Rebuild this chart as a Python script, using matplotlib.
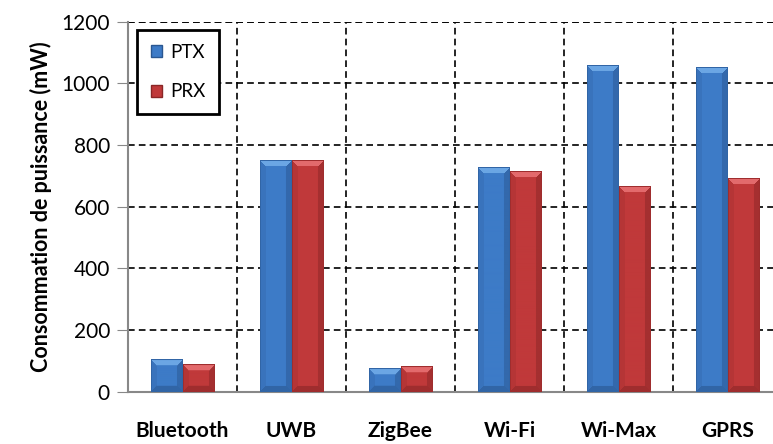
import numpy as np
import matplotlib
matplotlib.use("Agg")
import matplotlib.pyplot as plt
from matplotlib.patches import Patch
from matplotlib.colors import to_rgb

# ================================
# Données
# ================================
technos = ["Bluetooth", "UWB", "ZigBee", "Wi-Fi", "Wi-Max", "GPRS"]
ptx = [104, 752, 76, 727, 1060, 1053]
prx = [89, 752, 82, 714, 665, 694]
yticks = [0, 200, 400, 600, 800, 1000, 1200]

plt.rcParams["font.family"] = ["Lato", "DejaVu Sans"]

fig = plt.figure(figsize=(7.73, 4.44), dpi=100)
ax = fig.add_axes([128 / 773, 52.3 / 444, 654 / 773, 370 / 444])
ax.set_xlim(-0.5, len(technos) - 0.5)
ax.set_ylim(0, 1200)

x = np.arange(len(technos))
w = 0.29
b1 = ax.bar(x - w / 2, ptx, w, color="#3E7CC8", zorder=3)
b2 = ax.bar(x + w / 2, prx, w, color="#C0383A", zorder=3)


# effet biseauté façon Excel
def bevel(patch, base, light, dark):
    x0, y0 = patch.get_x(), patch.get_y()
    x1, y1 = x0 + patch.get_width(), y0 + patch.get_height()
    p0 = ax.transData.transform((x0, y0))
    p1 = ax.transData.transform((x1, y1))
    W = max(int(round(p1[0] - p0[0])), 2)
    H = max(int(round(p1[1] - p0[1])), 2)
    bv = min(6, W / 2, H)
    jj, ii = np.meshgrid(np.arange(W) + 0.5, np.arange(H) + 0.5)
    dl, dr, dt, db = jj, W - jj, ii, H - ii
    base, light, dark = np.array(base), np.array(light), np.array(dark)
    img = np.zeros((H, W, 3))
    img[:] = base
    m = np.minimum(np.minimum(dl, dr), np.minimum(dt, db))
    edge = m < bv
    left = edge & (dl == m)
    right = edge & (dr == m)
    bottom = edge & (db == m)
    top = edge & (dt == m)
    img[left] = base * 0.8 + dark * 0.2
    img[right] = base * 0.5 + dark * 0.5
    img[bottom] = base * 0.4 + dark * 0.6
    img[top] = light
    # contour fin plus sombre
    rim = m < 1
    img[rim] = base * 0.4 + dark * 0.6
    ax.imshow(img, extent=[x0, x1, y0, y1], aspect="auto", origin="upper",
              interpolation="bilinear", zorder=4)


for p in b1:
    bevel(p, to_rgb("#3D7BC7"), to_rgb("#6BA6E4"), to_rgb("#2A5791"))
for p in b2:
    bevel(p, to_rgb("#C0393A"), to_rgb("#E36A6C"), to_rgb("#8A2626"))

ax.set_xlim(-0.5, len(technos) - 0.5)
ax.set_ylim(0, 1200)

# grille pointillée
ax.set_yticks(yticks)
ax.set_yticklabels([str(v) for v in yticks], fontsize=15)
ax.set_xticks(x)
ax.set_xticklabels(technos, fontsize=15, fontweight="bold")
ax.set_xticks(np.arange(0.5, len(technos) - 0.5, 1), minor=True)
ax.tick_params(axis="x", which="both", length=0, pad=21)
ax.tick_params(axis="y", length=8, color="#888888", pad=5)
ax.grid(axis="y", which="major", linestyle=(0, (4, 2.5)), color="black", lw=1.2, zorder=1)
ax.grid(axis="x", which="minor", linestyle=(0, (4, 2.5)), color="black", lw=1.2, zorder=1)
ax.axhline(1200, linestyle=(0, (4, 2.5)), color="black", lw=1.2, zorder=1)

for s in ["top", "right"]:
    ax.spines[s].set_visible(False)
for s in ["left", "bottom"]:
    ax.spines[s].set_color("#888888")
    ax.spines[s].set_linewidth(1.5)

ax.set_ylabel("Consommation de puissance (mW)", fontsize=15.5, fontweight="bold", labelpad=7)

handles = [Patch(facecolor="#3D7BC7", edgecolor="#2A5791"),
           Patch(facecolor="#C0393A", edgecolor="#8A2626")]
leg = ax.legend(handles, ["PTX", "PRX"], loc="upper left", bbox_to_anchor=(0.014, 0.978),
                borderaxespad=0, fontsize=13.5, fancybox=False, framealpha=1,
                edgecolor="black", handlelength=0.6, handleheight=0.6,
                labelspacing=1.2, borderpad=0.75, handletextpad=0.4)
leg.get_frame().set_linewidth(2)
leg.set_zorder(10)

plt.savefig("out.png", dpi=100)
plt.close()
